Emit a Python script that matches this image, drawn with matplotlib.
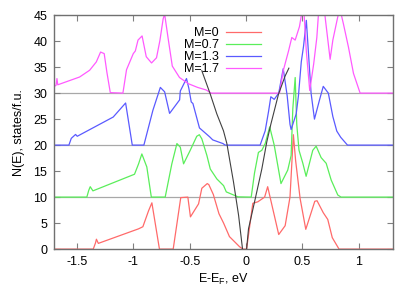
import matplotlib
matplotlib.use("Agg")
import matplotlib.pyplot as plt
from matplotlib.ticker import FuncFormatter

plt.rcParams['font.family'] = ['Liberation Sans', 'DejaVu Sans']
plt.rcParams['font.size'] = 9

# M=0 (baseline 0)
e_m0 = [-1.70, -1.355, -1.335, -1.327, -1.31, -0.953, -0.915, -0.864, -0.835, -0.768,
        -0.646, -0.579, -0.516, -0.493, -0.421, -0.392, -0.344, -0.33, -0.29, -0.24,
        -0.199, -0.147, -0.057, -0.028, 0.005, 0.06, 0.105, 0.165, 0.192, 0.29,
        0.347, 0.39, 0.42, 0.44, 0.48, 0.53, 0.61, 0.63, 0.685, 0.725, 0.765, 0.825, 1.30]
n_m0 = [0, 0, 1.2, 1.9, 1.1, 3.9, 4.3, 7.4, 8.9, 0,
        0, 9.9, 10.0, 6.2, 8.7, 11.7, 12.6, 12.4, 10.5, 6.8,
        5.0, 2.4, 0.45, 0, 0, 8.8, 9.1, 10.0, 12.0, 2.8,
        4.5, 10.0, 22.0, 17.0, 9.7, 3.8, 9.2, 9.3, 7.0, 5.7, 2.2, 0, 0]

# M=0.7 (baseline 10)
e_m07 = [-1.70, -1.412, -1.395, -1.382, -1.358, -0.989, -0.953, -0.924, -0.88, -0.84,
         -0.717, -0.658, -0.613, -0.583, -0.554, -0.495, -0.437, -0.414, -0.392, -0.347,
         -0.317, -0.259, -0.199, -0.175, -0.072, 0.046, 0.075, 0.11, 0.14, 0.17,
         0.21, 0.25, 0.31, 0.37, 0.40, 0.415, 0.436, 0.45, 0.47, 0.504, 0.533,
         0.592, 0.622, 0.666, 0.711, 0.755, 0.814, 0.843, 1.30]
n_m07 = [10, 10, 11.3, 12.0, 11.2, 14.4, 16.4, 18.3, 15.8, 10.0,
         10.0, 16.4, 20.3, 19.6, 16.4, 19.0, 21.7, 22.0, 21.2, 18.0,
         15.4, 13.5, 12.2, 11.0, 10.05, 10.0, 14.6, 18.6, 19.0, 20.3,
         23.5, 20.0, 12.6, 15.2, 18.0, 27.0, 33.0, 24.0, 19.0, 16.5, 14.0,
         19.0, 19.8, 17.6, 16.5, 13.3, 10.4, 10.0, 10.0]

# M=1.3 (baseline 20)
e_m13 = [-1.70, -1.571, -1.55, -1.512, -1.497, -1.178, -1.068, -1.009, -0.906, -0.826,
         -0.76, -0.722, -0.678, -0.589, -0.583, -0.528, -0.507, -0.486, -0.471, -0.413,
         -0.323, -0.295, -0.205, -0.185, 0.125, 0.17, 0.20, 0.22, 0.25, 0.29,
         0.33, 0.365, 0.39, 0.40, 0.445, 0.465, 0.49, 0.51, 0.535, 0.547, 0.577,
         0.607, 0.652, 0.685, 0.73, 0.77, 0.805, 0.84, 0.90, 1.30]
n_m13 = [20, 20, 21.3, 22.05, 21.7, 25.4, 28.1, 20.0, 20.0, 26.7,
         31.1, 30.25, 26.1, 28.7, 30.4, 32.8, 30.9, 28.3, 28.0, 23.3,
         21.6, 21.0, 20.3, 20.0, 20.0, 22.75, 26.5, 29.3, 28.8, 30.0,
         34.7, 29.5, 24.0, 23.0, 26.0, 29.5, 36.0, 39.0, 44.0, 40.0, 30.0,
         25.0, 28.7, 31.3, 30.0, 25.5, 22.7, 21.5, 20.0, 20.0]

# M=1.7 (baseline 30)
e_m17 = [-1.70, -1.685, -1.677, -1.67, -1.476, -1.387, -1.328, -1.29, -1.258, -1.234,
         -1.204, -1.092, -1.06, -1.0, -0.982, -0.958, -0.922, -0.885, -0.838, -0.794,
         -0.764, -0.735, -0.722, -0.69, -0.654, -0.59, -0.51, -0.43, -0.353, -0.31,
         0.297, 0.33, 0.377, 0.406, 0.436, 0.474, 0.495, 0.51, 0.535, 0.565,
         0.60, 0.628, 0.645, 0.69, 0.705, 0.746, 0.77, 0.814, 0.835, 0.864,
         0.909, 0.953, 1.012, 1.30]
n_m17 = [31.3, 31.5, 32.8, 31.6, 33.1, 34.4, 36.0, 37.9, 37.6, 34.0,
         30.1, 30.0, 34.5, 37.6, 38.1, 40.2, 41.0, 37.0, 35.8, 36.8,
         40.1, 44.3, 45.2, 40.4, 35.2, 33.0, 31.8, 31.1, 30.6, 30.0,
         30.0, 34.3, 38.1, 40.7, 40.2, 42.8, 45.5, 47.0, 38.0, 30.5,
         35.6, 40.7, 46.0, 47.0, 44.0, 36.5, 40.2, 44.7, 46.0, 43.3,
         38.8, 33.8, 30.0, 30.0]

# black guide curve (two branches)
e_guide_left = [-0.392, -0.317, -0.259, -0.20, -0.17, -0.111, -0.066, -0.031]
n_guide_left = [34.3, 29.8, 26.0, 22.75, 20.3, 12.9, 6.5, 0.0]
e_guide_right = [0.005, 0.022, 0.082, 0.14, 0.184, 0.22, 0.288, 0.347, 0.38]
n_guide_right = [0.0, 3.9, 9.7, 15.4, 20.6, 24.0, 29.8, 33.3, 34.8]

baselines = [10, 20, 30]
labels = ['M=0', 'M=0.7', 'M=1.3', 'M=1.7']
colors = ['#ff6a6a', '#5aee5a', '#5a5aff', '#ff5aff']

fig = plt.figure(figsize=(4.15, 2.91), dpi=100)
ax = fig.add_axes([0.131, 0.144, 0.815, 0.804])

for b in baselines:
    ax.axhline(b, color='#a8a8a8', lw=0.9, zorder=1)

series = [(e_m0, n_m0), (e_m07, n_m07), (e_m13, n_m13), (e_m17, n_m17)]
for (e, n), lab, c in zip(series, labels, colors):
    ax.plot(e, n, color=c, lw=0.9, label=lab, zorder=2)

ax.plot(e_guide_left, n_guide_left, color='#404040', lw=0.8, zorder=3)
ax.plot(e_guide_right, n_guide_right, color='#404040', lw=0.8, zorder=3)

ax.set_xlim(-1.7, 1.3)
ax.set_ylim(0, 45)
ax.set_xticks([-1.5, -1, -0.5, 0, 0.5, 1])
ax.set_yticks(range(0, 50, 5))
ax.xaxis.set_major_formatter(FuncFormatter(lambda v, p: '%g' % v))
ax.tick_params(direction='in', top=True, right=True, length=4, color='#808080',
               labelsize=9, pad=5)
for s in ax.spines.values():
    s.set_color('#707070')
    s.set_linewidth(1.0)

ax.set_xlabel(r'E-E$_\mathregular{F}$, eV', fontsize=9, labelpad=3)
ax.set_ylabel('N(E), states/f.u.', fontsize=9, labelpad=6)

ax.legend(loc='upper right', bbox_to_anchor=(0.63, 0.975), frameon=False,
          markerfirst=False, handlelength=2.8, handletextpad=0.6,
          labelspacing=0.0, borderpad=0, fontsize=9)

plt.savefig('out.png', dpi=100)
